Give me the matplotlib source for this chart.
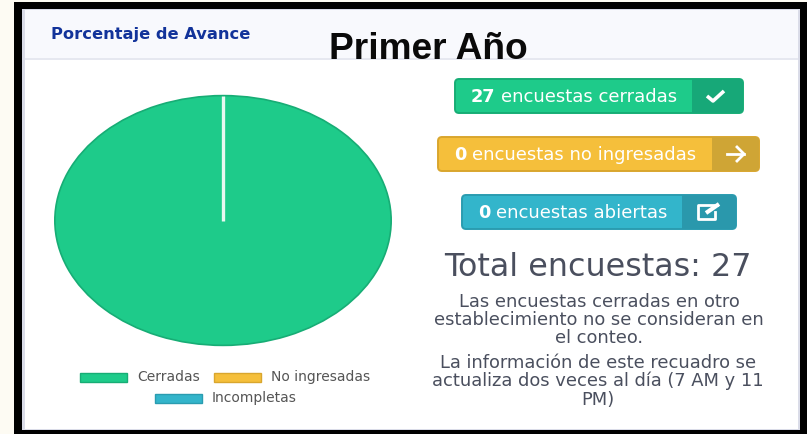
"""
Porcentaje de Avance - Primer Año
Pie chart of survey status with the status buttons next to it
"""

import matplotlib
matplotlib.use('Agg')
import matplotlib.pyplot as plt
from matplotlib.patches import FancyBboxPatch, Rectangle

categories = ['Cerradas', 'No ingresadas', 'Incompletas']
values = [27, 0, 0]
colors = ['#1ECB8A', '#F5BF3B', '#33B5CB']
edge_colors = ['#17AD75', '#D9A62E', '#2A9CB0']
dark_colors = ['#17A878', '#CFA535', '#2A98AC']

button_labels = ['encuestas cerradas', 'encuestas no ingresadas', 'encuestas abiertas']
total_label = 'Total encuestas: 27'
note_1 = ['Las encuestas cerradas en otro', 'establecimiento no se consideran en', 'el conteo.']
note_2 = ['La información de este recuadro se', 'actualiza dos veces al día (7 AM y 11', 'PM)']

W, H = 807, 435
fig = plt.figure(figsize=(W / 100, H / 100), dpi=100, facecolor='#FDFBF3')

# page layer in pixels, y going down
bg = fig.add_axes([0, 0, 1, 1])
bg.set_xlim(0, W)
bg.set_ylim(H, 0)
bg.axis('off')


def rect(x0, y0, x1, y1, color, z=1):
    patch = Rectangle((x0, y0), x1 - x0, y1 - y0, facecolor=color, edgecolor='none', zorder=z)
    bg.add_patch(patch)
    return patch


# frame and panel
rect(14, 3, 807, 435, '#000000')
rect(22, 10, 800, 431, '#DADCE8', 2)
rect(25, 11, 798, 430, '#FFFFFF', 3)
rect(25, 11, 798, 59, '#F8F9FD', 4)
rect(25, 59, 798, 61, '#E6E8F0', 4)

bg.text(51, 35, 'Porcentaje de Avance', color='#12339A', fontsize=11.7, fontweight='bold',
        family='DejaVu Sans', va='center', ha='left', zorder=5)

# title is cut off at the header line
title = bg.text(428, 59, 'Primer Año', color='#0A0A0A', fontsize=26.7, fontweight='bold',
                family='Liberation Sans', va='baseline', ha='center', zorder=5)
title.set_clip_path(Rectangle((0, 0), W, 59.5, transform=bg.transData))
title.set_clip_on(True)

# pie, stretched like the reference
pie_ax = fig.add_axes([54 / W, 1 - 347 / H, 338 / W, 251 / H])
pie_ax.pie(values, colors=colors, startangle=90, counterclock=False, radius=1,
           wedgeprops={'edgecolor': edge_colors[0], 'linewidth': 1.2})
pie_ax.set_aspect('auto')
pie_ax.set_xlim(-1.005, 1.005)
pie_ax.set_ylim(-1.005, 1.005)
pie_ax.plot([0, 0], [0, 1], color='#E8F8F1', linewidth=2.4, solid_capstyle='butt')

# legend
legend_pos = [(80, 378), (214, 378), (155, 399)]
for cat, c, ec, (lx, ly) in zip(categories, colors, edge_colors, legend_pos):
    bg.add_patch(Rectangle((lx, ly - 4.5), 47, 9, facecolor=c, edgecolor=ec, linewidth=1, zorder=5))
    bg.text(lx + 57, ly - 0.5, cat, color='#555555', fontsize=10, family='DejaVu Sans',
            va='center', ha='left', zorder=5)

# status buttons: left, right, split, centre
buttons = [(454, 744, 692, 97), (437, 760, 712, 155), (461, 737, 682, 213)]
number_x = [471, 454, 478]
label_right = [677, 696, 667]
for i, (x0, x1, xs, yc) in enumerate(buttons):
    box = FancyBboxPatch((x0 + 1, yc - 17), x1 - x0 - 2, 34, boxstyle='round,pad=0,rounding_size=4',
                         facecolor=colors[i], edgecolor=edge_colors[i], linewidth=1.4, zorder=5)
    bg.add_patch(box)
    dark = rect(xs, yc - 18, x1 + 1, yc + 18, dark_colors[i], 6)
    dark.set_clip_path(box)
    bg.text(number_x[i], yc, f'{values[i]}', color='white', fontsize=12.8, fontweight='bold',
            family='DejaVu Sans', va='center', ha='left', zorder=7)
    bg.text(label_right[i], yc, button_labels[i], color='white', fontsize=13,
            family='DejaVu Sans', va='center', ha='right', zorder=7)

# icons
bg.plot([707, 713, 724], [97, 102, 92], color='white', linewidth=2.6, zorder=7, solid_capstyle='butt')
bg.plot([727, 744], [155, 155], color='white', linewidth=2, zorder=7)
bg.plot([737, 744, 737], [148, 155, 162], color='white', linewidth=2, zorder=7)
bg.plot([717, 698, 698, 715, 715], [206, 206, 220, 220, 213], color='white', linewidth=2, zorder=7)
bg.plot([706, 719], [214, 205], color='white', linewidth=3, zorder=7, solid_capstyle='butt')

# right hand text
text_c = '#4A4F5E'
bg.text(598, 268, total_label, color=text_c, fontsize=22.9, family='DejaVu Sans', va='center', ha='center', zorder=5)
for line, y in zip(note_1, [302, 320, 338]):
    bg.text(599, y, line, color=text_c, fontsize=12.9, family='DejaVu Sans', va='center', ha='center', zorder=5)
for line, y in zip(note_2, [363, 381, 400]):
    bg.text(598, y, line, color=text_c, fontsize=12.9, family='DejaVu Sans', va='center', ha='center', zorder=5)

fig.savefig('out.png', dpi=100, facecolor=fig.get_facecolor())
plt.close(fig)
